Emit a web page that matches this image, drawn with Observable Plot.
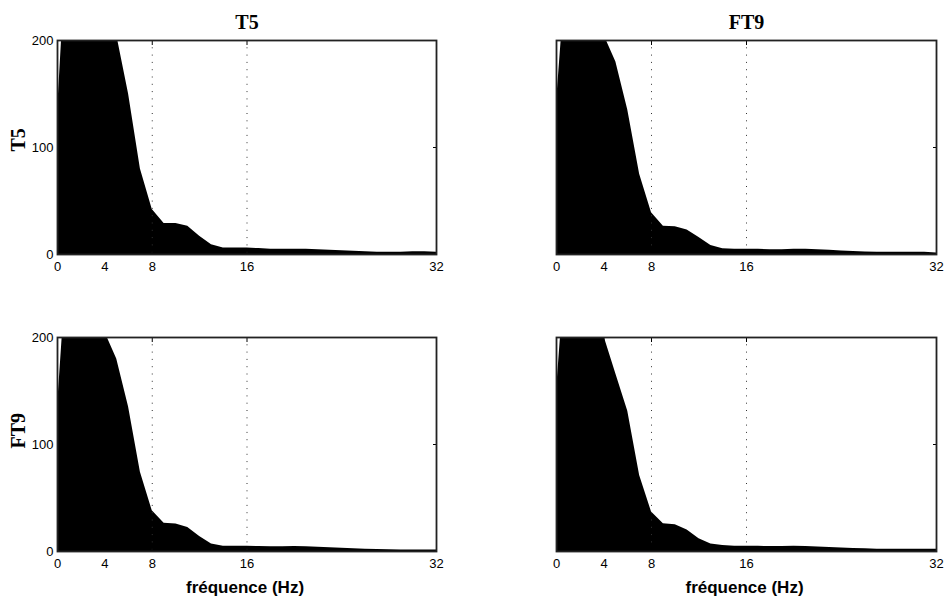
<!DOCTYPE html>
<html><head><meta charset="utf-8">
<script src="https://cdn.jsdelivr.net/npm/d3@7"></script>
<script src="https://cdn.jsdelivr.net/npm/@observablehq/plot@0.6"></script>
<style>
html,body{margin:0;padding:0;background:#fff;}
#chart{position:relative;width:944px;height:603px;overflow:hidden;background:#fff;}
#chart svg{position:absolute;}
</style></head><body><div id="chart"></div>
<script>
// ---- data ----
const freq = [0,1,2,3,4,5,6,7,8,9,10,11,12,13,14,15,16,17,18,19,20,21,22,23,24,25,26,27,28,29,30,31,32];
const xTicks = [0,4,8,16,32];
const yTicks = [0,100,200];
const gridFreqs = [8,16];
const channels = ["T5","FT9"];
const xLabel = "fréquence (Hz)";
// spectra (row channel, column channel)
const specT5_T5   = [133,330,400,380,300,205,150,80,42,29,29,26.5,17,9,6,6,6,5.5,5,5,5,5,4.5,4,3.5,3,2.5,2,2,2,2.5,2.5,2];
const specT5_FT9  = [142,290,380,330,205,180,135,75,39,26.5,26,23,16,8.5,5.3,5,5,4.8,4.5,4.5,4.8,5,4.5,4,3.2,2.8,2.4,2.2,2,2,2,2,1.5];
const specFT9_T5  = [135,300,380,330,205,180,135,74,38,26.5,25.6,22.4,14,7,5,4.8,4.8,4.6,4.5,4.5,4.6,4.5,4,3.5,3,2.5,2,1.8,1.6,1.5,1.5,1.5,1.5];
const specFT9_FT9 = [150,300,370,300,201,166,131,71,37,26,25,20,12,7,5.5,5,5,4.8,4.6,4.6,4.8,4.6,4.2,3.8,3.2,2.8,2.5,2.2,2,2,2,2,2];

const spectra = [[specT5_T5, specT5_FT9],[specFT9_T5, specFT9_FT9]];

const tickFont = "'Liberation Sans Narrow','Arial Narrow','Liberation Sans',Arial,sans-serif";
const serifFont = "'Liberation Serif','Times New Roman',serif";

const panelLeft = [0, 499];
const panelTop = [0, 297];
const frameW = [379, 380];

const chart = document.getElementById("chart");

for (let r = 0; r < 2; r++) {
  for (let c = 0; c < 2; c++) {
    const values = spectra[r][c];
    const data = freq.map((f, i) => ({f, v: values[i]}));
    const marks = [
      Plot.areaY(data, {x: "f", y: "v", fill: "black", clip: true}),
      Plot.ruleX(gridFreqs, {stroke: "#333", strokeWidth: 1, strokeDasharray: "1,6.3"}),
      Plot.axisX({anchor: "bottom", ticks: xTicks, tickSize: 0, tickPadding: 7, label: null,
        fontFamily: tickFont, fontSize: 13, fill: "black"}),
      Plot.axisX({anchor: "bottom", ticks: xTicks, tickSize: -4, tickFormat: () => "", label: null}),
      Plot.axisX({anchor: "top", ticks: xTicks, tickSize: -4, tickFormat: () => "", label: null}),
      Plot.axisY({anchor: "left", ticks: yTicks, tickSize: -4, tickFormat: () => "", label: null}),
      Plot.axisY({anchor: "right", ticks: yTicks, tickSize: -4, tickFormat: () => "", label: null}),
      Plot.frame({stroke: "#222", strokeWidth: 1.8})
    ];
    if (c === 0) {
      marks.push(Plot.axisY({anchor: "left", ticks: yTicks, tickSize: 0, tickPadding: 4, label: null,
        fontFamily: tickFont, fontSize: 13, fill: "black"}));
      marks.push(Plot.text([channels[r]], {text: d => d, frameAnchor: "left", lineAnchor: "middle",
        rotate: -90, dx: -39, dy: 4,
        fontFamily: serifFont, fontWeight: "bold", fontSize: 20, fill: "black"}));
    }
    if (r === 0) {
      marks.push(Plot.text([channels[c]], {text: d => d, frameAnchor: "top", lineAnchor: "middle", dy: -18,
        fontFamily: serifFont, fontWeight: "bold", fontSize: 20, fill: "black"}));
    }
    if (r === 1) {
      marks.push(Plot.text([xLabel], {text: d => d, frameAnchor: "bottom", lineAnchor: "middle", dy: 36, dx: -2,
        fontFamily: tickFont, fontWeight: "bold", fontSize: 17, fill: "black"}));
    }
    const svg = Plot.plot({
      width: 57 + frameW[c] + 8,
      height: 306,
      marginLeft: 57, marginRight: 8, marginTop: 40, marginBottom: 52,
      x: {domain: [0, 32], axis: null},
      y: {domain: [0, 200], axis: null},
      style: {background: "transparent", overflow: "visible"},
      marks
    });
    svg.style.left = panelLeft[c] + "px";
    svg.style.top = panelTop[r] + "px";
    chart.appendChild(svg);
  }
}
</script></body></html>
